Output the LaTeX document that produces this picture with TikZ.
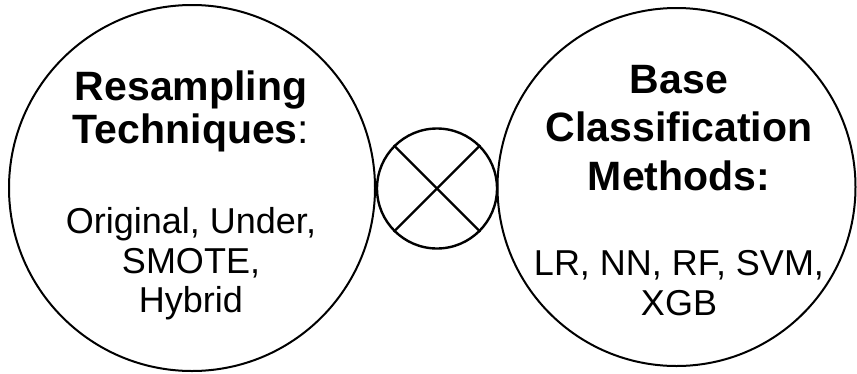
\documentclass[tikz,border=0pt]{standalone}
\usepackage{fontspec}
\setmainfont{Liberation Sans}
\begin{document}
\begin{tikzpicture}[x=1pt,y=-1pt,
  ring/.style={draw=black,line width=2pt,circle,inner sep=0pt},
  ttl/.style={anchor=base,inner sep=0pt,font=\fontsize{41}{43}\selectfont\bfseries},
  txt/.style={anchor=base,inner sep=0pt,font=\fontsize{36}{40}\selectfont}]
\useasboundingbox (0,0) rectangle (857,373);
\node[ring,minimum size=366pt] (L) at (192,188) {};
\node[ring,minimum size=358pt] (R) at (676.5,187) {};
\node[ring,line width=2.4pt,minimum size=120pt] (X) at (437,188.5) {};
\draw[line width=2.2pt] (X.north west) -- (X.south east);
\draw[line width=2.2pt] (X.north east) -- (X.south west);
\node[ttl] (l1) at (191,100) {Resampling};
\node[ttl] (l2) at (191,143) {Techniques\mdseries:};
\node[txt] (l3) at (191,233) {Original, Under,};
\node[txt] (l4) at (191,273) {SMOTE,};
\node[txt] (l5) at (191,312) {Hybrid};
\node[ttl] (r1) at (679,93) {Base};
\node[ttl] (r2) at (679,141.5) {Classification};
\node[ttl] (r3) at (679,190) {Methods:};
\node[txt] (r4) at (679,275) {LR, NN, RF, SVM,};
\node[txt] (r5) at (679,315) {XGB};
\end{tikzpicture}
\end{document}
